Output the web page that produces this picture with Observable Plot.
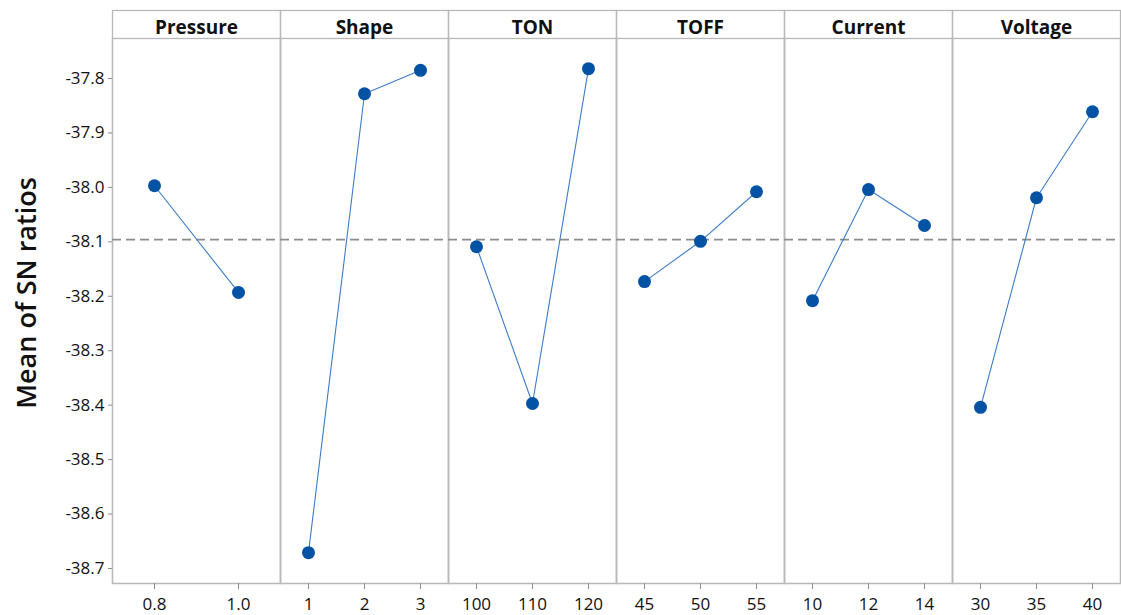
<!DOCTYPE html>
<html>
<head>
<meta charset="utf-8">
<script src="https://cdn.jsdelivr.net/npm/d3@7"></script>
<script src="https://cdn.jsdelivr.net/npm/@observablehq/plot@0.6"></script>
<style>
  html, body { margin: 0; padding: 0; background: #fff; }
</style>
</head>
<body>
<div id="chart"></div>
<script>
// ---- data ----
const factors = ["Pressure", "Shape", "TON", "TOFF", "Current", "Voltage"];
const pressureLevels = ["0.8", "1.0"];
const pressureMeans = [-37.997, -38.193];
const shapeLevels = ["1", "2", "3"];
const shapeMeans = [-38.671, -37.828, -37.785];
const tonLevels = ["100", "110", "120"];
const tonMeans = [-38.109, -38.397, -37.782];
const toffLevels = ["45", "50", "55"];
const toffMeans = [-38.173, -38.099, -38.008];
const currentLevels = ["10", "12", "14"];
const currentMeans = [-38.208, -38.004, -38.070];
const voltageLevels = ["30", "35", "40"];
const voltageMeans = [-38.404, -38.019, -37.861];
const grandMean = -38.096;
const yTicks = [-37.8, -37.9, -38.0, -38.1, -38.2, -38.3, -38.4, -38.5, -38.6, -38.7];
const yDomain = [-38.7276, -37.7265];

const groups = [
  [pressureLevels, pressureMeans],
  [shapeLevels, shapeMeans],
  [tonLevels, tonMeans],
  [toffLevels, toffMeans],
  [currentLevels, currentMeans],
  [voltageLevels, voltageMeans]
];

// table: position of each level inside its panel is its rank among the panel's levels
const rows = [];
groups.forEach(([levels, means], g) => {
  levels.forEach((lev, i) => {
    rows.push({factor: factors[g], level: lev, pos: (i + 0.5) / levels.length, mean: means[i]});
  });
});

const W = 1121, H = 615;
const mTop = 38, mBottom = 32, mLeft = 111, mRight = 0;
const innerH = H - mTop - mBottom;
const gridGray = "#b8b8b8";

const fmt = v => v.toFixed(1);

const chart = Plot.plot({
  width: W,
  height: H,
  marginTop: mTop,
  marginBottom: mBottom,
  marginLeft: mLeft,
  marginRight: mRight,
  style: {fontFamily: "'Open Sans', 'Noto Sans', sans-serif", fontSize: "17px", color: "#111", background: "#fff"},
  fx: {domain: factors, padding: 0, axis: null},
  x: {domain: [0, 1], axis: null},
  y: {domain: yDomain, axis: null},
  marks: [
    Plot.frame({stroke: gridGray, strokeWidth: 1.3, insetTop: -28}),
    Plot.frame({stroke: gridGray, strokeWidth: 1.3}),
    Plot.ruleY([grandMean], {stroke: "#8c8c8c", strokeWidth: 1.6, strokeDasharray: "9,5"}),
    Plot.axisY(yTicks, {tickFormat: fmt, tickSize: 4, tickPadding: 4, stroke: "#8c8c8c", fill: "#111", fontSize: 17, label: null}),
    Plot.text([factors[0]], {fx: d => d, text: () => "Mean of SN ratios", frameAnchor: "left", textAnchor: "middle", lineAnchor: "middle", rotate: -90, dx: -85, dy: -18, fontSize: 27, fontWeight: 600, fill: "#111"}),
    Plot.text(factors, {fx: d => d, text: d => d, frameAnchor: "top", lineAnchor: "middle", dy: -11, fontSize: 19, fontWeight: "bold", fill: "#111"}),
    Plot.ruleX(rows, {fx: "factor", x: "pos", insetTop: innerH, insetBottom: -6, stroke: "#8c8c8c"}),
    Plot.text(rows, {fx: "factor", x: "pos", text: "level", frameAnchor: "bottom", lineAnchor: "middle", dy: 21, fontSize: 17, fill: "#111"}),
    Plot.line(rows, {fx: "factor", x: "pos", y: "mean", stroke: "#3d7cc6", strokeWidth: 1.1}),
    Plot.dot(rows, {fx: "factor", x: "pos", y: "mean", r: 6.5, fill: "#0352a3", stroke: "none"})
  ]
});

document.getElementById("chart").appendChild(chart);
</script>
</body>
</html>
